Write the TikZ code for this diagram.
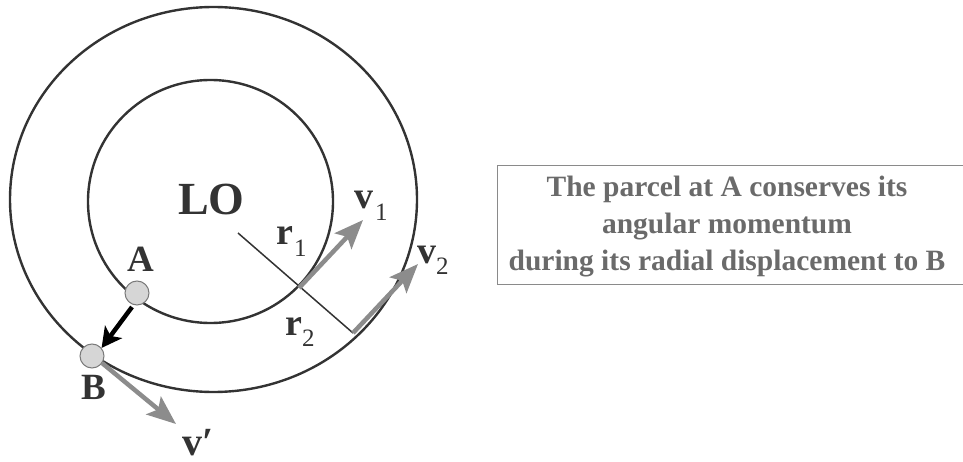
\documentclass[tikz,border=0pt]{standalone}
\usepackage{fontspec}
\setmainfont{Liberation Serif}
\usetikzlibrary{arrows.meta}
\definecolor{ink}{HTML}{333333}
\definecolor{arrgray}{HTML}{8C8C8C}
\definecolor{txtgray}{HTML}{6A6A6A}
\definecolor{boxgray}{HTML}{8A8A8A}
\definecolor{dotfill}{HTML}{D6D6D6}
\definecolor{dotline}{HTML}{7A7A7A}
\tikzset{
  orbit/.style={draw=ink, line width=2.4pt},
  radial/.style={draw=ink, line width=1.5pt},
  velarrow/.style={draw=arrgray, line width=4.5pt, -{Stealth[length=29pt, width=23pt, inset=6pt]}},
  movearrow/.style={draw=black, line width=4.5pt, -{Stealth[length=20pt, width=21pt, inset=5pt]}},
  parcel/.style={circle, draw=dotline, fill=dotfill, line width=1pt, minimum size=24pt, inner sep=0pt},
  bigl/.style={font=\fontsize{46}{46}\selectfont\bfseries, text=ink, inner sep=0pt, anchor=base},
  ptl/.style={font=\fontsize{37}{37}\selectfont\bfseries, text=ink, inner sep=0pt, anchor=base},
  vecl/.style={font=\fontsize{38}{38}\selectfont\bfseries, text=ink, inner sep=0pt, anchor=base west},
  subl/.style={font=\fontsize{25}{25}\selectfont, text=ink, inner sep=0pt, anchor=base west},
  boxtxt/.style={font=\fontsize{29.5}{29.5}\selectfont\bfseries, text=txtgray, inner sep=0pt, anchor=base}
}
\begin{document}
\begin{tikzpicture}[x=1pt,y=-1pt]
\useasboundingbox (0,0) rectangle (963,462);
% orbits
\draw[orbit] (213.5,199.5) ellipse [x radius=203.5, y radius=192.5];
\draw[orbit] (210.5,201.5) ellipse [x radius=122.5, y radius=121.5];
% radial line
\coordinate (r0) at (238,233);
\coordinate (p1) at (299,288);
\coordinate (p2) at (353,333);
\draw[radial] (r0) -- (p2);
% velocity arrows
\coordinate (v1tip) at (363,220);
\coordinate (v2tip) at (418,264);
\draw[velarrow] (p1) -- (v1tip);
\draw[velarrow] (p2) -- (v2tip);
% parcels
\node[parcel] (A) at (137,293) {};
\node[parcel] (B) at (92,356) {};
\coordinate (vptip) at (176,424);
\draw[velarrow] (B.-35) -- (vptip);
\draw[movearrow] (132,307) -- (B.40);
% labels
\node[bigl] (LO) at (211.5,215) {LO};
\node[ptl] (lA) at (140.5,272) {A};
\node[ptl] (lB) at (93.5,399) {B};
\node[vecl] (v1) at (354,209) {v};
\node[subl] (v1s) at (375,221) {1};
\node[vecl] (v2) at (417,264) {v};
\node[subl] (v2s) at (436,274) {2};
\node[vecl] (r1) at (276,245) {r};
\node[subl] (r1s) at (294,257) {1};
\node[vecl] (r2) at (285,335) {r};
\node[subl] (r2s) at (302,346) {2};
\node[vecl, font=\fontsize{40}{40}\selectfont\bfseries] (vp) at (182,455) {v′};
% text box
\draw[draw=boxgray, line width=1pt] (497,166) rectangle (968,284);
\node[boxtxt] (t1) at (727,197) {The parcel at A conserves its};
\node[boxtxt] (t2) at (727,234) {angular momentum};
\node[boxtxt] (t3) at (727,270) {during its radial displacement to B};
\end{tikzpicture}
\end{document}
